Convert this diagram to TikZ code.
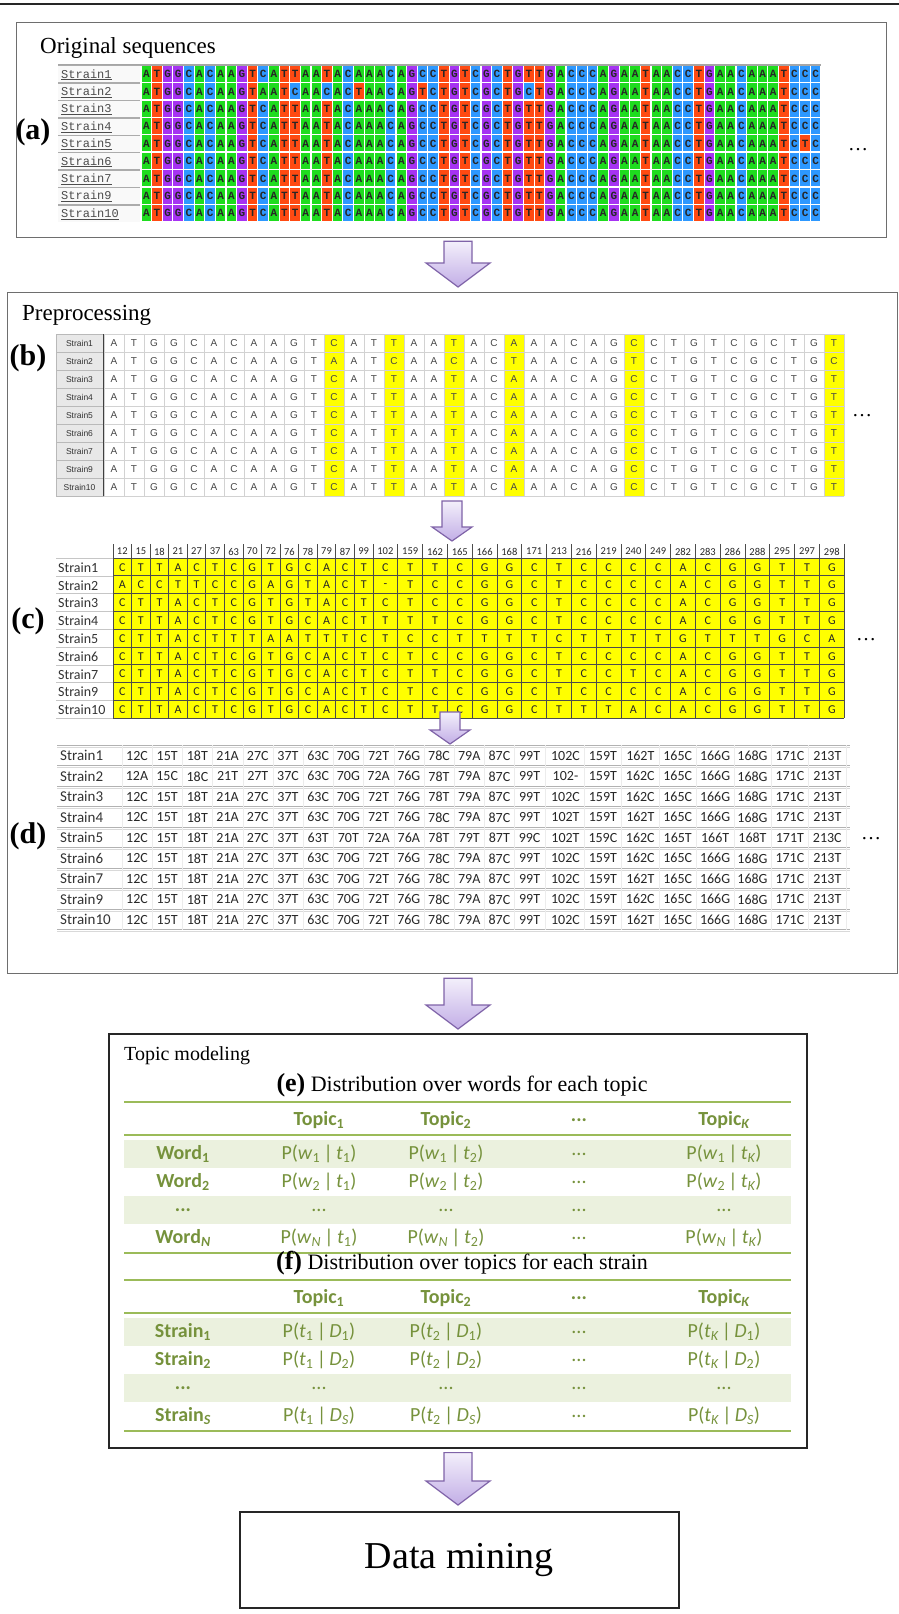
\documentclass[tikz,border=0pt]{standalone}
\usepackage{fontspec}
\setmainfont{Liberation Serif}
\newfontfamily\cali{Carlito}
\newfontfamily\arialf{Liberation Sans}
\newfontfamily\courf{Liberation Mono}
\usetikzlibrary{calc}
\definecolor{nA}{HTML}{1EDC1E}
\definecolor{nT}{HTML}{FF4A12}
\definecolor{nG}{HTML}{A633F2}
\definecolor{nC}{HTML}{2D98FF}
\definecolor{olive}{HTML}{76923C}
\definecolor{bandc}{HTML}{EBF1DE}
\definecolor{rulec}{HTML}{9BBB59}
\definecolor{arrtop}{HTML}{F3EFFB}
\definecolor{arrbot}{HTML}{C2AEE6}
\definecolor{arrline}{HTML}{7F63A8}
\definecolor{boxline}{HTML}{6E6E6E}
\definecolor{yel}{HTML}{FFFF00}
\newcount\colidx
\newcommand\fs[1]{\fontsize{#1}{#1}\selectfont}
\tikzset{
  panel/.style={draw=boxline, line width=1.3pt, inner sep=0pt},
  panelk/.style={draw=black!85, line width=1.6pt, inner sep=0pt},
  title/.style={anchor=base west, font=\fs{23}, inner sep=0pt},
  title2/.style={anchor=base west, font=\fs{20}, inner sep=0pt},
  plabel/.style={font=\fs{30}\bfseries, inner sep=0pt},
  dots/.style={font=\fs{20}, inner sep=0pt},
  alabel/.style={anchor=west, font=\courf\fs{12}, text=black!70, inner sep=0pt},
  nucAtxt/.style={font=\courf\bfseries\fs{11}, text=black!85, inner sep=0pt},
  blabel/.style={font=\arialf\fs{8.5}, text=black!80, inner sep=0pt},
  nucBtxt/.style={font=\arialf\fs{10}, text=black!72, inner sep=0pt},
  gridb/.style={draw=gray!35, line width=0.6pt},
  clabel/.style={anchor=west, font=\cali\fs{14}, text=black!80, inner sep=0pt},
  ctxt/.style={font=\cali\fs{12}, text=black!85, inner sep=0pt},
  chdr/.style={font=\cali\fs{10.5}, text=black!85, inner sep=0pt},
  cgrid/.style={draw=black!70, line width=0.8pt},
  dlabel/.style={anchor=west, font=\cali\fs{15}, text=black!80, inner sep=0pt},
  dtxt/.style={font=\cali\fs{14}, text=black!85, inner sep=0pt},
  thd/.style={font=\cali\bfseries\fs{20}, text=olive, inner sep=0pt},
  tval/.style={font=\cali\fs{20}, text=olive, inner sep=0pt},
  barrow/.style={draw=arrline, line width=1.2pt, top color=arrtop, bottom color=arrbot},
}
% block arrow: from, to, gap top, gap bottom, shaft half, head half, head length
\newcommand\blockarrow[7]{%
  \path[barrow] let \p1=#1, \p2=#2 in
   (\x1-#5pt,\y1-#3pt) -- (\x1+#5pt,\y1-#3pt) -- (\x1+#5pt,\y2+#4pt+#7pt)
   -- (\x1+#6pt,\y2+#4pt+#7pt) -- (\x1,\y2+#4pt) -- (\x1-#6pt,\y2+#4pt+#7pt)
   -- (\x1-#5pt,\y2+#4pt+#7pt) -- cycle;}
\def\hdrnum{\ifcase\colidx 12\or15\or18\or21\or27\or37\or63\or70\or72\or76\or78\or79\or87\or99\or102\or159\or162\or165\or166\or168\or171\or213\or216\or219\or240\or249\or282\or283\or286\or288\or295\or297\or298\fi}
\newcommand\nucA[1]{%
  \pgfmathsetmacro\xx{141+10.625*\the\colidx}%
  \fill[n#1] (\xx+0.6,\yy+0.8) rectangle (\xx+10.0,\yy+16.8);%
  \node[nucAtxt] at (\xx+5.3,\yy+9) {#1};%
  \ifnum\colidx<37
    \pgfmathsetmacro\xb{114+20*\the\colidx}%
    \node[nucBtxt] at (\xb,\yb+9.5) {#1};%
  \fi
  \global\advance\colidx by 1\relax}
\def\runA#1{\ifx#1\relax\else\nucA{#1}\expandafter\runA\fi}
\newcommand\nucC[1]{%
  \ifnum\colidx<14
    \pgfmathsetmacro\xx{113+18.57*(\the\colidx+0.5)}%
    \pgfmathsetmacro\xd{137+30.2*\the\colidx}%
  \else
    \pgfmathsetmacro\xx{373+24.8*(\the\colidx-13.5)}%
    \pgfmathsetmacro\xd{565.5+37.4*(\the\colidx-14)}%
  \fi
  \node[ctxt] at (\xx,\yy+9.3) {#1};%
  \ifnum\colidx<22 \node[dtxt] at (\xd,\yd+10.8) {\hdrnum#1};\fi
  \global\advance\colidx by 1\relax}
\def\runC#1{\ifx#1\relax\else\nucC{#1}\expandafter\runC\fi}
\newcommand\tablebg[1]{%
  \fill[bandc] (124,1140+#1) rectangle (791,1168+#1);
  \fill[bandc] (124,1196+#1) rectangle (791,1224+#1);
  \draw[rulec, line width=2pt] (124,1102+#1) -- (791,1102+#1);
  \draw[rulec, line width=2pt] (124,1135+#1) -- (791,1135+#1);
  \draw[rulec, line width=2pt] (124,1253+#1) -- (791,1253+#1);}
\begin{document}
\begin{tikzpicture}[x=1pt,y=-1pt]
\useasboundingbox (0,0) rectangle (899,1614);
\draw[black!85, line width=2pt] (0,4) -- (899,4);

% ---------- panels ----------
\node[panel, minimum width=870pt, minimum height=215pt, anchor=north west] (boxa) at (16,22) {};
\node[panel, minimum width=890pt, minimum height=681pt, anchor=north west] (boxb) at (7,292) {};
\node[panelk, minimum width=698pt, minimum height=414pt, anchor=north west] (boxe) at (108,1033) {};
\node[panelk, minimum width=439pt, minimum height=96pt, anchor=north west] (boxdm) at (239,1511) {};
\node[font=\fs{38}, inner sep=0pt] (dm) at (boxdm.center) {Data mining};

\node[title] (ta) at (40,53) {Original sequences};
\node[title] (tb) at (22,320) {Preprocessing};
\node[title2] (te) at (124,1060) {Topic modeling};
\node[plabel] (la) at (33,132) {(a)};
\node[plabel] (lb) at (28,358) {(b)};
\node[plabel] (lc) at (28,621) {(c)};
\node[plabel] (ld) at (28,836) {(d)};
\node[dots] (da) at (858,150) {\ldots};
\node[dots] (db) at (862,416) {\ldots};
\node[dots] (dc) at (866,640) {\ldots};
\node[dots] (dd) at (871,839) {\ldots};

% ---------- (b) grid background ----------
\foreach \c in {12,15,18,21,27,37} \fill[yel] (84+20*\c,334) rectangle (104+20*\c,496);
\foreach \i in {0,...,37} \draw[gridb] (104+20*\i,334) -- (104+20*\i,496);
\foreach \r in {0,...,9} \draw[gridb] (104,334+18*\r) -- (844,334+18*\r);

% ---------- (a) and (b) rows ----------
\draw[gray!70, line width=1.2pt] (58,65) -- (821,65);
\foreach \s/\seq [count=\r from 0] in {
 1/ATGGCACAAGTCATTAATACAAACAGCCTGTCGCTGTTGACCCAGAATAACCTGAACAAATCCC,
 2/ATGGCACAAGTAATCAACACTAACAGTCTGTCGCTGCTGACCCAGAATAACCTGAACAAATCCC,
 3/ATGGCACAAGTCATTAATACAAACAGCCTGTCGCTGTTGACCCAGAATAACCTGAACAAATCCC,
 4/ATGGCACAAGTCATTAATACAAACAGCCTGTCGCTGTTGACCCAGAATAACCTGAACAAATCCC,
 5/ATGGCACAAGTCATTAATACAAACAGCCTGTCGCTGTTGACCCAGAATAACCTGAACAAATCTC,
 6/ATGGCACAAGTCATTAATACAAACAGCCTGTCGCTGTTGACCCAGAATAACCTGAACAAATCCC,
 7/ATGGCACAAGTCATTAATACAAACAGCCTGTCGCTGTTGACCCAGAATAACCTGAACAAATCCC,
 9/ATGGCACAAGTCATTAATACAAACAGCCTGTCGCTGTTGACCCAGAATAACCTGAACAAATCCC,
 10/ATGGCACAAGTCATTAATACAAACAGCCTGTCGCTGTTGACCCAGAATAACCTGAACAAATCCC}{
  \pgfmathsetmacro\yy{65+17.4*\r}
  \pgfmathsetmacro\yb{334+18*\r}
  \fill[gray!5] (58,\yy) rectangle (140,\yy+17.4);
  \draw[gray!65, line width=1.4pt] (58,\yy+0.7) -- (140,\yy+0.7);
  \node[alabel] (al\s) at (61,\yy+9.8) {\underline{Strain\s}};
  \filldraw[fill=gray!18, draw=gray!55] (56,\yb) rectangle (103,\yb+18);
  \node[blabel] (bl\s) at (79.5,\yb+9.3) {Strain\s};
  \global\colidx=0
  \expandafter\runA\seq\relax
}
\draw[black!75, line width=1.6pt] (103.5,334) -- (103.5,496);

% ---------- (c) grid background ----------
\fill[yel] (113,558) rectangle (844,718);
\foreach \r in {0,...,9} \draw[gray!45] (56,558+17.8*\r) -- (113,558+17.8*\r);
\foreach \r in {0,...,9} \draw[cgrid] (113,558+17.8*\r) -- (844,558+17.8*\r);
\foreach \i in {0,...,14} \draw[cgrid] (113+18.57*\i,544) -- (113+18.57*\i,718);
\foreach \j in {1,...,19} \draw[cgrid] (373+24.8*\j,544) -- (373+24.8*\j,718);
\foreach \i in {0,...,32}{
  \global\colidx=\i
  \ifnum\i<14 \pgfmathsetmacro\xx{113+18.57*(\i+0.5)}\else\pgfmathsetmacro\xx{373+24.8*(\i-13.5)}\fi
  \node[chdr] (ch\i) at (\xx,551.5) {\hdrnum};
}

% ---------- (d) table lines ----------
\foreach \r in {0,...,9}{
  \pgfmathsetmacro\yl{745+20.5*\r}
  \draw[gray!60, line width=1pt] (57,\yl) -- (850,\yl);
  \draw[gray!30, line width=0.6pt] (57,\yl+1.8) -- (850,\yl+1.8);
}
\foreach \i in {0,...,14} \draw[gray!15] (122+30.2*\i,745) -- (122+30.2*\i,930);
\foreach \j in {1,...,8} \draw[gray!15] (546.8+37.4*\j,745) -- (546.8+37.4*\j,930);

% ---------- (c) and (d) rows ----------
\foreach \s/\seq [count=\r from 0] in {
 1/CTTACTCGTGCACTCTTCGGCTCCCCACGGTTG,
 2/ACCTTCCGAGTACT-TCCGGCTCCCCACGGTTG,
 3/CTTACTCGTGTACTCTCCGGCTCCCCACGGTTG,
 4/CTTACTCGTGCACTTTTCGGCTCCCCACGGTTG,
 5/CTTACTTTAATTTCTCCTTTTCTTTTGTTTGCA,
 6/CTTACTCGTGCACTCTCCGGCTCCCCACGGTTG,
 7/CTTACTCGTGCACTCTTCGGCTCCTCACGGTTG,
 9/CTTACTCGTGCACTCTCCGGCTCCCCACGGTTG,
 10/CTTACTCGTGCACTCTTCGGCTTTACACGGTTG}{
  \pgfmathsetmacro\yy{558+17.8*\r}
  \pgfmathsetmacro\yd{745+20.5*\r}
  \node[clabel] (cl\s) at (58,\yy+9.5) {Strain\s};
  \node[dlabel] (dl\s) at (60,\yd+10.8) {Strain\s};
  \global\colidx=0
  \expandafter\runC\seq\relax
}

% ---------- (e) / (f) tables ----------
\tablebg{0}
\tablebg{178}
\node[font=\fs{22}, inner sep=0pt] (et) at (462,1085) {{\fs{26}\bfseries (e)} Distribution over words for each topic};
\node[font=\fs{22}, inner sep=0pt] (ft) at (462,1263) {{\fs{26}\bfseries (f)} Distribution over topics for each strain};

\node[thd] (eh1) at (319,1120) {Topic\textsubscript{1}};
\node[thd] (eh2) at (446,1120) {Topic\textsubscript{2}};
\node[thd] (eh3) at (579,1120) {...};
\node[thd] (eh4) at (724,1120) {Topic\textsubscript{\itshape K}};
\node[thd] (ew1) at (183,1154) {Word\textsubscript{1}};
\node[thd] (ew2) at (183,1182) {Word\textsubscript{2}};
\node[thd] (ew3) at (183,1210) {...};
\node[thd] (ew4) at (183,1238) {Word\textsubscript{\itshape N}};
\node[tval] at (319,1154) {P(\textit{w}\textsubscript{1}\,|\,\textit{t}\textsubscript{1})};
\node[tval] at (446,1154) {P(\textit{w}\textsubscript{1}\,|\,\textit{t}\textsubscript{2})};
\node[tval] at (579,1154) {...};
\node[tval] at (724,1154) {P(\textit{w}\textsubscript{1}\,|\,\textit{t}\textsubscript{\itshape K})};
\node[tval] at (319,1182) {P(\textit{w}\textsubscript{2}\,|\,\textit{t}\textsubscript{1})};
\node[tval] at (446,1182) {P(\textit{w}\textsubscript{2}\,|\,\textit{t}\textsubscript{2})};
\node[tval] at (579,1182) {...};
\node[tval] at (724,1182) {P(\textit{w}\textsubscript{2}\,|\,\textit{t}\textsubscript{\itshape K})};
\node[tval] at (319,1210) {...};
\node[tval] at (446,1210) {...};
\node[tval] at (579,1210) {...};
\node[tval] at (724,1210) {...};
\node[tval] at (319,1238) {P(\textit{w}\textsubscript{\itshape N}\,|\,\textit{t}\textsubscript{1})};
\node[tval] at (446,1238) {P(\textit{w}\textsubscript{\itshape N}\,|\,\textit{t}\textsubscript{2})};
\node[tval] at (579,1238) {...};
\node[tval] at (724,1238) {P(\textit{w}\textsubscript{\itshape N}\,|\,\textit{t}\textsubscript{\itshape K})};

\node[thd] (fh1) at (319,1298) {Topic\textsubscript{1}};
\node[thd] (fh2) at (446,1298) {Topic\textsubscript{2}};
\node[thd] (fh3) at (579,1298) {...};
\node[thd] (fh4) at (724,1298) {Topic\textsubscript{\itshape K}};
\node[thd] (fs1) at (183,1332) {Strain\textsubscript{1}};
\node[thd] (fs2) at (183,1360) {Strain\textsubscript{2}};
\node[thd] (fs3) at (183,1388) {...};
\node[thd] (fs4) at (183,1416) {Strain\textsubscript{\itshape S}};
\node[tval] at (319,1332) {P(\textit{t}\textsubscript{1}\,|\,\textit{D}\textsubscript{1})};
\node[tval] at (446,1332) {P(\textit{t}\textsubscript{2}\,|\,\textit{D}\textsubscript{1})};
\node[tval] at (579,1332) {...};
\node[tval] at (724,1332) {P(\textit{t}\textsubscript{\itshape K}\,|\,\textit{D}\textsubscript{1})};
\node[tval] at (319,1360) {P(\textit{t}\textsubscript{1}\,|\,\textit{D}\textsubscript{2})};
\node[tval] at (446,1360) {P(\textit{t}\textsubscript{2}\,|\,\textit{D}\textsubscript{2})};
\node[tval] at (579,1360) {...};
\node[tval] at (724,1360) {P(\textit{t}\textsubscript{\itshape K}\,|\,\textit{D}\textsubscript{2})};
\node[tval] at (319,1388) {...};
\node[tval] at (446,1388) {...};
\node[tval] at (579,1388) {...};
\node[tval] at (724,1388) {...};
\node[tval] at (319,1416) {P(\textit{t}\textsubscript{1}\,|\,\textit{D}\textsubscript{\itshape S})};
\node[tval] at (446,1416) {P(\textit{t}\textsubscript{2}\,|\,\textit{D}\textsubscript{\itshape S})};
\node[tval] at (579,1416) {...};
\node[tval] at (724,1416) {P(\textit{t}\textsubscript{\itshape K}\,|\,\textit{D}\textsubscript{\itshape S})};

% ---------- arrows ----------
\coordinate (axis) at (458,0);
\coordinate (bc1) at (452,501);
\coordinate (bc2) at (452,541);
\coordinate (cd1) at (450,712);
\coordinate (cd2) at (450,744);
\blockarrow{(boxa.south -| axis)}{(boxb.north -| axis)}{3}{5}{14}{32}{24}
\blockarrow{(bc1)}{(bc2)}{0}{0}{10}{20}{14}
\blockarrow{(cd1)}{(cd2)}{0}{0}{10}{20}{14}
\blockarrow{(boxb.south -| axis)}{(boxe.north -| axis)}{4}{4}{14}{32}{24}
\blockarrow{(boxe.south -| axis)}{(boxdm.north -| axis)}{4}{6}{14}{32}{24}
\end{tikzpicture}
\end{document}
